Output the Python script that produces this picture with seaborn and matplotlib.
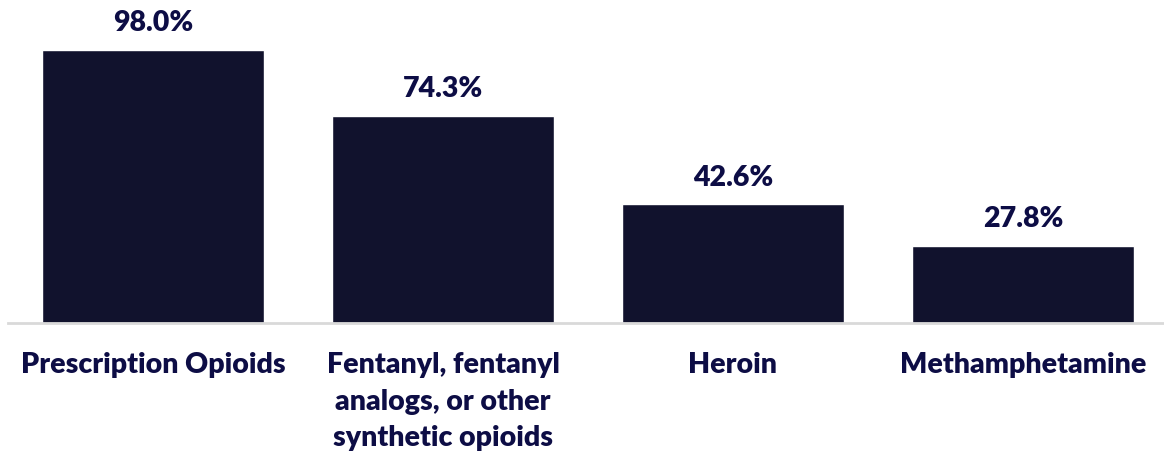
import matplotlib
matplotlib.use("Agg")
import matplotlib.pyplot as plt
import seaborn as sns
import pandas as pd

categories = ["Prescription Opioids",
              "Fentanyl, fentanyl\nanalogs, or other\nsynthetic opioids",
              "Heroin",
              "Methamphetamine"]
values = [98.0, 74.3, 42.6, 27.8]
value_labels = ["98.0%", "74.3%", "42.6%", "27.8%"]

sns.set_style("white")
plt.rcParams['font.family'] = ['Lato', 'DejaVu Sans']

BAR = "#11122d"
TXT = "#0d0d45"
FS = 20.5
WT = "heavy"

fig = plt.figure(figsize=(11.64, 4.52), dpi=100)
ax = fig.add_axes([8/1164, 128/452, 1160/1164, 324/452])

df = pd.DataFrame({"cat": categories, "val": values})
sns.barplot(data=df, x="cat", y="val", color=BAR, width=0.765, saturation=1, ax=ax)

ax.set_xlim(-0.5, 3.5)
ax.set_ylim(0, 116.3)
for s in ["top", "right", "left"]:
    ax.spines[s].set_visible(False)
ax.spines["bottom"].set_color("#d9d9d9")
ax.spines["bottom"].set_linewidth(2)
ax.set_yticks([])
ax.set_xlabel("")
ax.set_ylabel("")
ax.tick_params(axis="x", length=0, pad=20.5, labelsize=FS, labelcolor=TXT)
for lab in ax.get_xticklabels():
    lab.set_fontweight(WT)
    lab.set_multialignment("center")
    lab.set_linespacing(1.5)

for i, (v, t) in enumerate(zip(values, value_labels)):
    ax.annotate(t, (i, v), xytext=(0, 20), textcoords="offset points",
                ha="center", va="center", fontsize=FS, fontweight=WT, color=TXT,
                annotation_clip=False)

fig.savefig("out.png", dpi=100)
